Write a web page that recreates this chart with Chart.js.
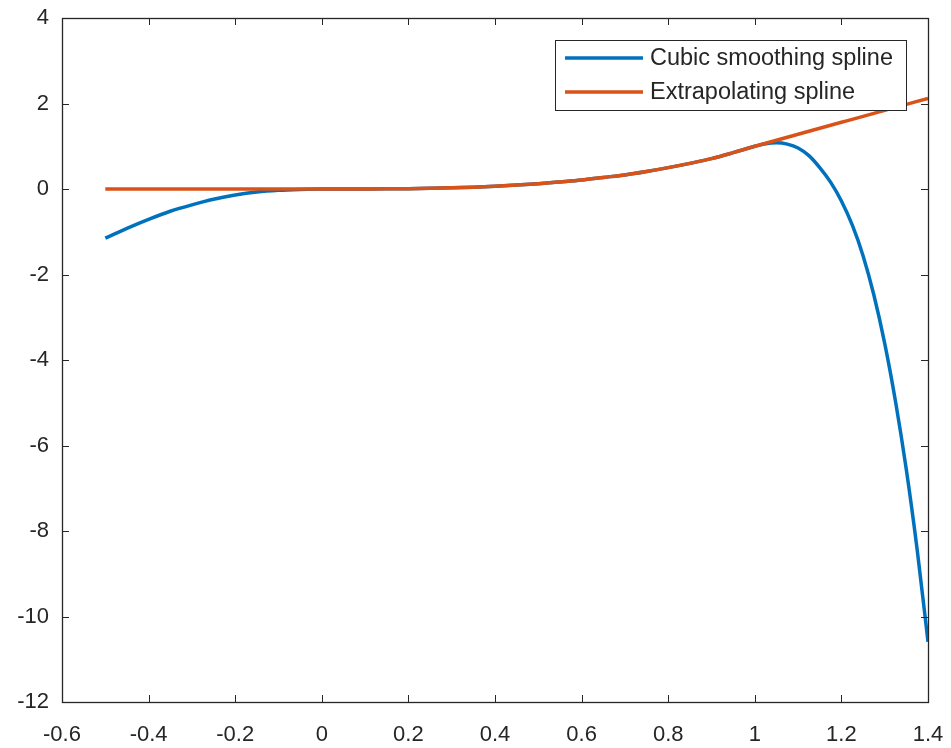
<!DOCTYPE html>
<html>
<head>
<meta charset="utf-8">
<script src="https://cdn.jsdelivr.net/npm/chart.js@4/dist/chart.umd.min.js"></script>
<style>
  body { margin: 0; background: #fff; }
  #wrap { width: 951px; height: 748px; }
</style>
</head>
<body>
<div id="wrap"><canvas id="splineChart" width="951" height="748"></canvas></div>
<script>
// x grid shared by both curves (finer where the blue curve drops)
const xValues = [-0.5, -0.45, -0.4, -0.35, -0.3, -0.25, -0.2, -0.15, -0.1, -0.05,
  0, 0.05, 0.1, 0.15, 0.2, 0.25, 0.3, 0.35, 0.4, 0.45,
  0.5, 0.55, 0.6, 0.65, 0.7, 0.75, 0.8, 0.85, 0.9, 0.95,
  1.0, 1.025, 1.05, 1.075, 1.1, 1.125, 1.15, 1.175, 1.2, 1.225,
  1.25, 1.275, 1.3, 1.325, 1.35, 1.375, 1.4];

// Cubic smoothing spline
const smoothY = [-1.15, -0.92, -0.71, -0.52, -0.37, -0.24, -0.14, -0.07, -0.03, -0.01,
  0, 0, 0.001, 0.003, 0.008, 0.016, 0.027, 0.043, 0.064, 0.091,
  0.125, 0.166, 0.21, 0.27, 0.33, 0.41, 0.5, 0.6, 0.71, 0.85,
  1.0, 1.06, 1.08, 1.05, 0.96, 0.78, 0.5, 0.16, -0.28, -0.84,
  -1.56, -2.48, -3.61, -4.97, -6.57, -8.44, -10.59];

// Extrapolating spline
const extrapY = [0, 0, 0, 0, 0, 0, 0, 0, 0, 0,
  0, 0, 0.001, 0.003, 0.008, 0.016, 0.027, 0.043, 0.064, 0.091,
  0.125, 0.166, 0.21, 0.27, 0.33, 0.41, 0.5, 0.6, 0.71, 0.85,
  1.0, 1.07, 1.14, 1.21, 1.28, 1.35, 1.42, 1.49, 1.56, 1.63,
  1.70, 1.77, 1.84, 1.91, 1.98, 2.05, 2.12];

const seriesNames = ["Cubic smoothing spline", "Extrapolating spline"];
const seriesColors = ["#0072BD", "#D95319"];

const xTicks = [-0.6, -0.4, -0.2, 0, 0.2, 0.4, 0.6, 0.8, 1, 1.2, 1.4];
const yTicks = [-12, -10, -8, -6, -4, -2, 0, 2, 4];

const axisColor = "#262626";
const fontFamily = "'Liberation Sans', Arial, Helvetica, sans-serif";

// box, inward ticks on all four sides, and a MATLAB-like legend
const matlabAxes = {
  id: "matlabAxes",
  afterDatasetsDraw(chart) {
    const ctx = chart.ctx;
    const a = chart.chartArea;
    const xs = chart.scales.x, ys = chart.scales.y;
    const tl = 7;
    ctx.save();
    ctx.strokeStyle = axisColor;
    ctx.lineWidth = 1;
    ctx.beginPath();
    xTicks.forEach(v => {
      const px = Math.round(xs.getPixelForValue(v)) + 0.5;
      ctx.moveTo(px, a.bottom); ctx.lineTo(px, a.bottom - tl);
      ctx.moveTo(px, a.top); ctx.lineTo(px, a.top + tl);
    });
    yTicks.forEach(v => {
      const py = Math.round(ys.getPixelForValue(v)) + 0.5;
      ctx.moveTo(a.left, py); ctx.lineTo(a.left + tl, py);
      ctx.moveTo(a.right, py); ctx.lineTo(a.right - tl, py);
    });
    ctx.stroke();
    ctx.lineWidth = 1.3;
    ctx.strokeRect(Math.round(a.left) + 0.5, Math.round(a.top) + 0.5,
      Math.round(a.right - a.left), Math.round(a.bottom - a.top));

    // legend
    const lx = 555, ly = 40, lw = 351, lh = 70;
    ctx.fillStyle = "#fff";
    ctx.fillRect(lx, ly, lw, lh);
    ctx.lineWidth = 1;
    ctx.strokeStyle = axisColor;
    ctx.strokeRect(lx + 0.5, ly + 0.5, lw, lh);
    ctx.font = "23.5px " + fontFamily;
    ctx.textBaseline = "middle";
    chart.data.datasets.forEach((ds, i) => {
      const cy = ly + 18 + i * 34;
      ctx.strokeStyle = ds.borderColor;
      ctx.lineWidth = 3.5;
      ctx.beginPath();
      ctx.moveTo(lx + 10, cy); ctx.lineTo(lx + 88, cy);
      ctx.stroke();
      ctx.fillStyle = axisColor;
      ctx.fillText(ds.label, lx + 95, cy + 1);
    });
    ctx.restore();
  }
};

const datasets = [smoothY, extrapY].map((ys, i) => ({
  label: seriesNames[i],
  data: xValues.map((x, j) => ({ x: x, y: ys[j] })),
  borderColor: seriesColors[i],
  backgroundColor: seriesColors[i],
  borderWidth: 3.5,
  pointRadius: 0,
  fill: false,
  cubicInterpolationMode: "monotone"
}));
// MATLAB draws the later series on top
datasets.forEach((d, i) => d.order = 1 - i);

new Chart(document.getElementById("splineChart").getContext("2d"), {
  type: "line",
  data: { datasets: datasets },
  options: {
    responsive: false,
    animation: false,
    layout: { padding: { top: 18, right: 23, left: 0, bottom: 0 } },
    plugins: { legend: { display: false }, tooltip: { enabled: false } },
    scales: {
      x: {
        type: "linear",
        min: -0.6, max: 1.4,
        afterBuildTicks: s => { s.ticks = xTicks.map(v => ({ value: v })); },
        afterFit: s => { s.height = 46; s.paddingLeft = 0; s.paddingRight = 0; },
        grid: { display: false, drawTicks: false },
        border: { display: false },
        ticks: {
          color: axisColor,
          font: { family: fontFamily, size: 22 },
          padding: 20,
          maxRotation: 0,
          autoSkip: false,
          callback: v => String(+v.toFixed(1))
        }
      },
      y: {
        type: "linear",
        min: -12, max: 4,
        afterBuildTicks: s => { s.ticks = yTicks.map(v => ({ value: v })); },
        afterFit: s => { s.width = 62; s.paddingTop = 0; s.paddingBottom = 0; },
        grid: { display: false, drawTicks: false },
        border: { display: false },
        ticks: {
          color: axisColor,
          font: { family: fontFamily, size: 22 },
          padding: 13,
          autoSkip: false,
          callback: v => String(v)
        }
      }
    }
  },
  plugins: [matlabAxes]
});
</script>
</body>
</html>
